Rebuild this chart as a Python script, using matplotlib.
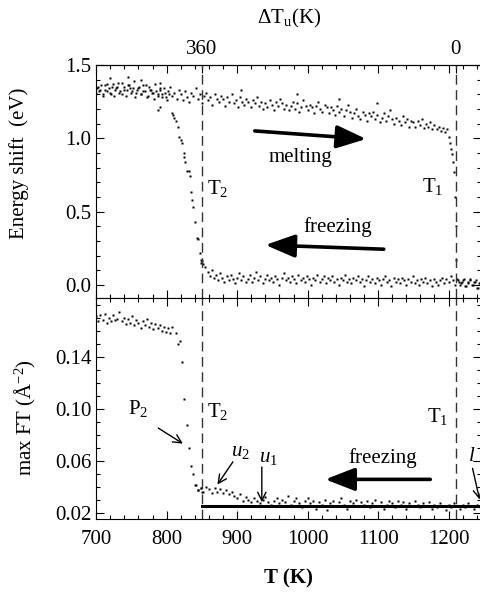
import matplotlib
matplotlib.use("Agg")
import matplotlib.pyplot as plt
from matplotlib.ticker import MultipleLocator, FixedLocator
import numpy as np

plt.rcParams['font.family'] = ['Liberation Serif', 'DejaVu Serif']
plt.rcParams['mathtext.fontset'] = 'custom'
plt.rcParams['mathtext.rm'] = 'Liberation Serif'
plt.rcParams['mathtext.it'] = 'Liberation Serif:italic'
plt.rcParams['font.size'] = 15

# transition temperatures (K)
T1 = 1210
T2 = 850

# --- top panel: energy shift (eV) ---
# heating scan, upper branch
t_melt = np.arange(700, 1200, 3)
e_melt = [
    1.31, 1.35, 1.33, 1.29, 1.36, 1.32, 1.34, 1.30, 1.37, 1.33,
    1.35, 1.31, 1.38, 1.33, 1.29, 1.36, 1.34, 1.32, 1.39, 1.31,
    1.34, 1.30, 1.36, 1.32, 1.28, 1.35, 1.33, 1.31, 1.37, 1.29,
    1.33, 1.30, 1.34, 1.28, 1.32, 1.35, 1.29, 1.31, 1.27, 1.33,
    1.30, 1.26, 1.32, 1.28, 1.25, 1.31, 1.29, 1.34, 1.27, 1.30,
    1.24, 1.29, 1.31, 1.26, 1.28, 1.23, 1.30, 1.27, 1.25, 1.29,
    1.27, 1.22, 1.28, 1.25, 1.30, 1.24, 1.26, 1.21, 1.28, 1.25,
    1.23, 1.27, 1.25, 1.21, 1.26, 1.24, 1.28, 1.22, 1.25, 1.20,
    1.24, 1.21, 1.26, 1.23, 1.19, 1.25, 1.22, 1.27, 1.24, 1.20,
    1.23, 1.19, 1.22, 1.25, 1.20, 1.24, 1.18, 1.21, 1.26, 1.22,
    1.19, 1.23, 1.21, 1.17, 1.22, 1.25, 1.20, 1.18, 1.23, 1.21,
    1.17, 1.21, 1.19, 1.16, 1.22, 1.18, 1.20, 1.15, 1.19, 1.23,
    1.18, 1.14, 1.17, 1.20, 1.15, 1.13, 1.18, 1.16, 1.12, 1.17,
    1.15, 1.18, 1.13, 1.16, 1.11, 1.14, 1.17, 1.12, 1.15, 1.19,
    1.13, 1.10, 1.14, 1.12, 1.09, 1.15, 1.11, 1.13, 1.08, 1.12,
    1.11, 1.08, 1.12, 1.09, 1.13, 1.07, 1.10, 1.08, 1.11, 1.06,
    1.09, 1.06, 1.08, 1.05, 1.07, 1.04, 1.06,
]
# a few high outliers on the upper branch
t_high = [720, 745, 763, 790, 905, 985, 1045, 1098]
e_high = [1.41, 1.42, 1.40, 1.38, 1.33, 1.30, 1.27, 1.24]
# collapse at T1 on heating
t_drop = [1200, 1202, 1203, 1205, 1206, 1208, 1209, 1210, 1211]
e_drop = [1.01, 0.97, 0.93, 0.89, 0.84, 0.77, 0.60, 0.40, 0.17]
# cooling scan, low-T part (solid again)
t_cool_hi = np.arange(701, 806, 3)
e_cool_hi = [
    1.34, 1.32, 1.36, 1.30, 1.33, 1.37, 1.31, 1.35, 1.29, 1.34,
    1.38, 1.32, 1.30, 1.35, 1.33, 1.36, 1.31, 1.34, 1.28, 1.33,
    1.35, 1.30, 1.32, 1.36, 1.29, 1.33, 1.31, 1.27, 1.32, 1.30,
    1.34, 1.28, 1.31, 1.26, 1.30,
]
# recovery below T2 on cooling
t_rise = [852, 850, 849, 848, 847, 845, 843, 840, 838, 836, 835, 833, 831, 829,
          826, 825, 824, 822, 820, 818, 816, 813, 811, 809, 807, 791, 788]
e_rise = [0.14, 0.16, 0.15, 0.17, 0.22, 0.31, 0.32, 0.43, 0.53, 0.58, 0.63, 0.74, 0.78, 0.78,
          0.84, 0.87, 0.90, 0.97, 0.99, 1.01, 1.08, 1.12, 1.14, 1.16, 1.17, 1.21, 1.19]
# cooling scan, liquid branch
t_liq = np.arange(855, 1246, 3)
e_liq = [
    0.12, 0.09, 0.06, 0.10, 0.05, 0.07, 0.03, 0.08, 0.05, 0.02,
    0.06, 0.03, 0.07, 0.04, 0.01, 0.05, 0.08, 0.03, 0.06, 0.02,
    0.04, 0.07, 0.02, 0.05, 0.09, 0.03, 0.06, 0.01, 0.04, 0.07,
    0.03, 0.05, 0.02, 0.06, 0.04, 0.00, 0.05, 0.08, 0.03, 0.05,
    0.02, 0.06, 0.04, 0.01, 0.07, 0.03, 0.05, 0.02, 0.06, 0.04,
    0.00, 0.05, 0.03, 0.07, 0.02, 0.04, 0.06, 0.01, 0.05, 0.03,
    0.06, 0.02, 0.04, 0.00, 0.05, 0.03, 0.07, 0.02, 0.04, 0.01,
    0.05, 0.03, 0.06, 0.02, 0.04, -0.01, 0.03, 0.06, 0.02, 0.04,
    0.01, 0.05, 0.03, 0.00, 0.04, 0.06, 0.02, 0.03, -0.01, 0.05,
    0.02, 0.04, 0.01, 0.05, 0.03, 0.00, 0.04, 0.02, 0.06, 0.01,
    0.03, 0.00, 0.04, 0.02, 0.05, 0.01, 0.03, -0.01, 0.04, 0.02,
    0.00, 0.03, 0.05, 0.01, 0.04, 0.02, 0.06, 0.03, 0.00, 0.04,
    0.02, 0.01, 0.03, -0.01, 0.02, 0.04, 0.00, 0.02, 0.03, -0.02,
    0.01,
]
# heating scan above T1
t_liq_h = np.arange(1213, 1246, 3)
e_liq_h = [0.03, 0.00, 0.02, 0.04, -0.01, 0.01, 0.03, 0.00, 0.02, -0.02, 0.01]

# --- bottom panel: max FT (A^-2), freezing ---
t_ft_solid = np.arange(700, 810, 3)
ft_solid = [
    0.171, 0.167, 0.172, 0.168, 0.173, 0.166, 0.170, 0.167, 0.172, 0.168,
    0.169, 0.174, 0.167, 0.170, 0.165, 0.169, 0.166, 0.171, 0.164, 0.168,
    0.166, 0.162, 0.167, 0.164, 0.169, 0.163, 0.166, 0.161, 0.165, 0.162,
    0.164, 0.160, 0.163, 0.159, 0.162, 0.158, 0.163,
]
t_ft_p2 = [813, 816, 819, 822, 825, 829, 832, 835, 838, 842, 845, 848, 850]
ft_p2 = [0.158, 0.150, 0.152, 0.136, 0.107, 0.087, 0.070, 0.056, 0.050, 0.041, 0.037, 0.039, 0.036]
t_ft_liq = np.arange(840, 1246, 4)
ft_liq = [
    0.041, 0.037, 0.039, 0.036, 0.040, 0.038, 0.035, 0.039, 0.036, 0.038,
    0.035, 0.037, 0.034, 0.036, 0.033, 0.031, 0.034, 0.029, 0.032, 0.030,
    0.028, 0.031, 0.029, 0.027, 0.030, 0.032, 0.028, 0.026, 0.029, 0.031,
    0.027, 0.030, 0.028, 0.033, 0.026, 0.029, 0.031, 0.027, 0.024, 0.029,
    0.031, 0.027, 0.029, 0.023, 0.028, 0.026, 0.030, 0.022, 0.027, 0.029,
    0.025, 0.028, 0.031, 0.026, 0.023, 0.029, 0.027, 0.030, 0.025, 0.028,
    0.026, 0.029, 0.024, 0.027, 0.030, 0.025, 0.028, 0.023, 0.026, 0.029,
    0.027, 0.024, 0.029, 0.026, 0.028, 0.023, 0.027, 0.025, 0.029, 0.026,
    0.024, 0.027, 0.025, 0.028, 0.023, 0.026, 0.024, 0.027, 0.025, 0.022,
    0.026, 0.024, 0.027, 0.025, 0.023, 0.026, 0.024, 0.027, 0.025, 0.023,
    0.026, 0.024,
]
ft_level = 0.025  # liquid reference level

fig = plt.figure(figsize=(4.81, 6.05), dpi=100)
ax1 = fig.add_axes([0.2, 0.5074, 0.8, 0.3852])
ax2 = fig.add_axes([0.2, 0.1421, 0.8, 0.3653], sharex=ax1)

dot = dict(ls='none', marker='s', ms=1.9, mec='none', color='k')

ax1.plot(t_melt, e_melt, **dot)
ax1.plot(t_high, e_high, **dot)
ax1.plot(t_drop, e_drop, **dot)
ax1.plot(t_cool_hi, e_cool_hi, **dot)
ax1.plot(t_rise, e_rise, **dot)
ax1.plot(t_liq, e_liq, **dot)
ax1.plot(t_liq_h, e_liq_h, **dot)

ax2.plot(t_ft_solid, ft_solid, **dot)
ax2.plot(t_ft_p2, ft_p2, **dot)
ax2.plot(t_ft_liq, ft_liq, **dot)
ax2.plot([T2, 1246], [ft_level, ft_level], color='k', lw=2.2)

for ax in (ax1, ax2):
    ax.axvline(T2, color='0.2', lw=1, ls=(0, (7, 4)))
    ax.axvline(T1, color='0.2', lw=1, ls=(0, (7, 4)))
    ax.tick_params(which='both', direction='in', top=True, right=True, width=0.8)
    ax.tick_params(which='major', length=6)
    ax.tick_params(which='minor', length=3)
    ax.xaxis.set_major_locator(MultipleLocator(100))
    ax.xaxis.set_minor_locator(MultipleLocator(20))

ax1.set_xlim(700, 1246)
ax1.set_ylim(-0.09, 1.5)
ax1.yaxis.set_major_locator(MultipleLocator(0.5))
ax1.yaxis.set_minor_locator(MultipleLocator(0.1))
ax1.yaxis.set_major_formatter(matplotlib.ticker.FormatStrFormatter('%.1f'))
ax1.tick_params(labelbottom=False)

ax2.set_ylim(0.015, 0.185)
ax2.yaxis.set_major_locator(FixedLocator([0.02, 0.06, 0.10, 0.14]))
ax2.yaxis.set_minor_locator(MultipleLocator(0.01))
ax2.yaxis.set_major_formatter(matplotlib.ticker.FormatStrFormatter('%.2f'))
ax2.tick_params(axis='x', pad=8)

ax1.set_ylabel('Energy shift  (eV)')
ax1.yaxis.set_label_coords(-0.175, 0.58)
ax2.set_ylabel('max FT (Å$^{-2}$)')
ax2.yaxis.set_label_coords(-0.15, 0.46)
ax2.set_xlabel('T (K)', fontweight='bold', labelpad=14)

# undercooling scale on top
secax = ax1.secondary_xaxis('top', functions=(lambda t: T1 - t, lambda d: T1 - d))
secax.set_xticks([360, 0])
secax.set_xticklabels(['360', '0'])
secax.tick_params(direction='in', length=6, pad=4)
secax.set_xlabel('$\\Delta$T$_\\mathrm{u}$(K)', labelpad=12)

big = dict(arrowstyle='-|>,head_length=0.9,head_width=0.35', lw=2.6, color='k',
           mutation_scale=20, shrinkA=0, shrinkB=0)
thin = dict(arrowstyle='->', lw=1, color='k', shrinkA=0, shrinkB=0)

ax1.annotate('', xy=(1083, 0.995), xytext=(925, 1.05), arrowprops=big)
ax1.text(990, 0.87, 'melting', ha='center', va='center')
ax1.annotate('', xy=(940, 0.272), xytext=(1108, 0.243), arrowprops=big)
ax1.text(1043, 0.395, 'freezing', ha='center', va='center')
ax1.text(873, 0.66, 'T$_2$', ha='center', va='center')
ax1.text(1177, 0.67, 'T$_1$', ha='center', va='center')

ax2.annotate('', xy=(823, 0.073), xytext=(788, 0.085), arrowprops=thin)
ax2.text(760, 0.100, 'P$_2$', ha='center', va='center')
ax2.text(873, 0.098, 'T$_2$', ha='center', va='center')
ax2.text(1185, 0.094, 'T$_1$', ha='center', va='center')
ax2.annotate('', xy=(872, 0.0415), xytext=(894, 0.059), arrowprops=thin)
ax2.text(904, 0.067, '$u_2$', ha='center', va='center')
ax2.annotate('', xy=(935, 0.028), xytext=(935, 0.055), arrowprops=thin)
ax2.text(944, 0.062, '$u_1$', ha='center', va='center')
ax2.annotate('', xy=(1025, 0.0455), xytext=(1174, 0.0455), arrowprops=big)
ax2.text(1107, 0.062, 'freezing', ha='center', va='center')
ax2.annotate('', xy=(1244, 0.030), xytext=(1234, 0.054), arrowprops=thin)
ax2.text(1233, 0.063, '$l$', ha='center', va='center')

fig.savefig('out.png', dpi=100)
